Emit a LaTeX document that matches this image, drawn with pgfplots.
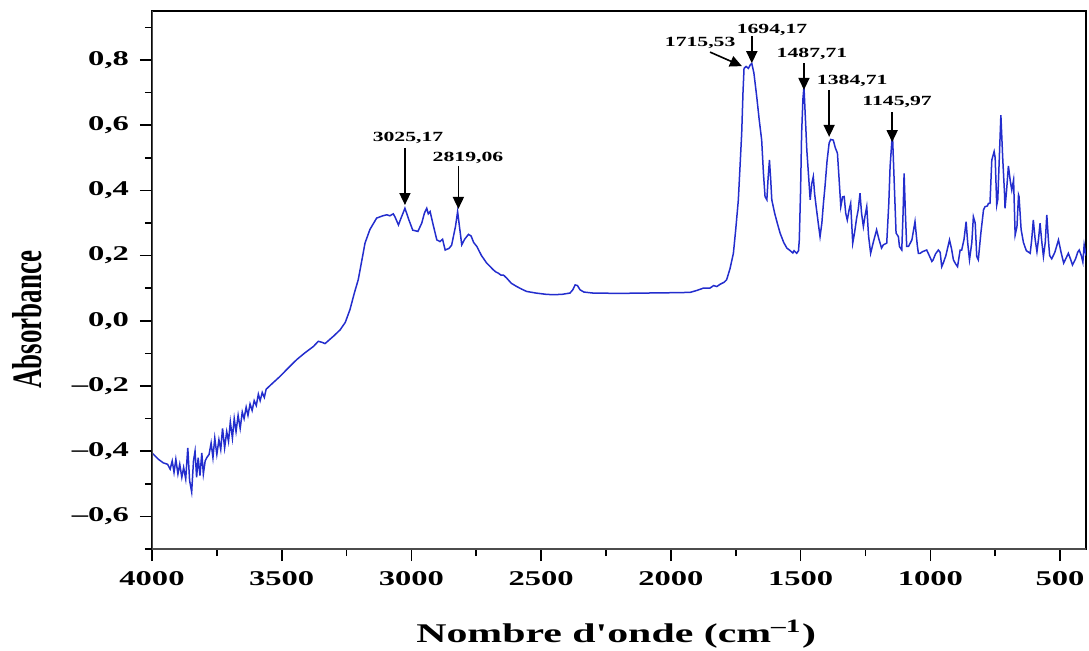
\documentclass[border=0pt]{standalone}
\usepackage{fontspec}
\setmainfont{Liberation Serif}
\usepackage{graphicx}
\usepackage{pgfplots}
\pgfplotsset{compat=1.18}
\usetikzlibrary{arrows.meta}

\definecolor{specblue}{RGB}{35,45,205}
\newcommand\sx[1]{\scalebox{1.55}[1]{#1}}

\pgfplotstableread{
wn    abs
4000 -0.405
3975 -0.425
3956 -0.436
3940 -0.44
3930 -0.455
3922 -0.43
3915 -0.465
3908 -0.425
3900 -0.47
3893 -0.44
3885 -0.48
3878 -0.45
3870 -0.485
3862 -0.39
3855 -0.49
3847 -0.525
3840 -0.43
3834 -0.40
3828 -0.48
3822 -0.42
3815 -0.475
3808 -0.405
3802 -0.47
3795 -0.43
3789 -0.42
3780 -0.41
3772 -0.375
3765 -0.42
3758 -0.36
3750 -0.41
3742 -0.365
3735 -0.395
3728 -0.33
3720 -0.39
3712 -0.34
3705 -0.37
3698 -0.31
3690 -0.36
3683 -0.30
3676 -0.34
3668 -0.29
3660 -0.33
3652 -0.28
3645 -0.30
3637 -0.265
3630 -0.29
3622 -0.255
3614 -0.275
3606 -0.245
3598 -0.26
3590 -0.225
3583 -0.245
3575 -0.22
3567 -0.235
3560 -0.21
3540 -0.195
3507 -0.171
3475 -0.145
3442 -0.119
3410 -0.098
3378 -0.079
3359 -0.063
3345 -0.066
3333 -0.070
3300 -0.047
3275 -0.028
3255 -0.005
3237 0.034
3220 0.085
3205 0.126
3190 0.19
3179 0.238
3160 0.28
3134 0.315
3110 0.322
3095 0.325
3083 0.322
3070 0.328
3063 0.318
3050 0.294
3040 0.315
3025 0.345
3010 0.31
2995 0.278
2975 0.274
2960 0.30
2950 0.33
2941 0.345
2935 0.328
2928 0.335
2915 0.29
2902 0.248
2890 0.243
2880 0.25
2870 0.217
2855 0.222
2845 0.232
2830 0.29
2822 0.335
2815 0.29
2806 0.233
2795 0.25
2780 0.265
2770 0.26
2760 0.24
2748 0.228
2730 0.20
2710 0.177
2695 0.165
2684 0.156
2675 0.15
2665 0.146
2655 0.14
2645 0.14
2633 0.131
2615 0.115
2594 0.105
2575 0.097
2556 0.090
2520 0.085
2480 0.081
2453 0.080
2420 0.081
2389 0.085
2378 0.095
2369 0.110
2360 0.108
2350 0.095
2335 0.088
2300 0.085
2200 0.084
2100 0.085
2000 0.086
1926 0.087
1900 0.093
1875 0.100
1850 0.100
1835 0.108
1823 0.105
1810 0.112
1795 0.118
1785 0.126
1772 0.160
1759 0.207
1750 0.28
1740 0.37
1733 0.48
1727 0.575
1722 0.70
1718 0.774
1710 0.780
1701 0.774
1694 0.785
1688 0.789
1680 0.76
1669 0.687
1660 0.62
1650 0.554
1643 0.45
1637 0.381
1630 0.371
1625 0.44
1620 0.493
1615 0.43
1611 0.371
1600 0.33
1590 0.30
1579 0.269
1565 0.24
1553 0.223
1540 0.215
1530 0.208
1525 0.215
1515 0.207
1508 0.215
1505 0.248
1500 0.40
1496 0.575
1491 0.68
1487 0.718
1482 0.63
1476 0.524
1468 0.43
1463 0.371
1457 0.42
1451 0.442
1446 0.39
1440 0.350
1432 0.30
1425 0.258
1418 0.30
1412 0.36
1406 0.411
1398 0.49
1390 0.545
1384 0.556
1374 0.554
1366 0.53
1358 0.514
1352 0.44
1345 0.350
1338 0.38
1332 0.381
1326 0.33
1320 0.309
1313 0.34
1307 0.360
1299 0.238
1292 0.27
1284 0.315
1278 0.34
1271 0.391
1265 0.33
1258 0.289
1252 0.32
1245 0.350
1238 0.26
1230 0.207
1220 0.24
1207 0.279
1198 0.25
1188 0.223
1181 0.233
1168 0.238
1160 0.36
1155 0.473
1148 0.554
1145 0.554
1138 0.40
1132 0.269
1123 0.258
1119 0.228
1110 0.217
1105 0.33
1101 0.452
1096 0.33
1091 0.228
1084 0.228
1071 0.248
1059 0.304
1050 0.23
1046 0.207
1039 0.207
1030 0.212
1014 0.217
1004 0.20
994 0.182
989 0.187
980 0.205
969 0.217
962 0.21
956 0.166
950 0.177
940 0.20
926 0.248
918 0.22
911 0.187
903 0.175
895 0.166
885 0.217
879 0.217
870 0.25
862 0.304
856 0.24
849 0.187
840 0.24
834 0.319
827 0.30
821 0.197
815 0.187
805 0.27
795 0.340
789 0.350
780 0.352
776 0.360
770 0.360
763 0.493
754 0.519
750 0.50
744 0.355
740 0.371
734 0.50
728 0.631
721 0.50
714 0.391
712 0.345
706 0.40
699 0.475
692 0.43
686 0.401
679 0.432
673 0.263
666 0.289
660 0.386
658 0.381
650 0.28
641 0.240
630 0.215
615 0.207
609 0.25
603 0.309
596 0.25
589 0.212
583 0.25
577 0.299
570 0.24
564 0.197
557 0.24
551 0.325
545 0.25
540 0.20
532 0.190
520 0.21
506 0.248
496 0.21
486 0.177
478 0.19
468 0.207
460 0.19
452 0.171
440 0.19
432 0.21
426 0.217
418 0.20
412 0.18
407 0.233
400 0.20
}\spectrum

\begin{document}
\begin{tikzpicture}
\useasboundingbox (-76pt,-50.5pt) rectangle (468.5pt,274.5pt);
\begin{axis}[
    at={(0,0)}, anchor=south west,
    scale only axis,
    width=467pt, height=269pt,
    x dir=reverse,
    xmin=400, xmax=4000,
    ymin=-0.7, ymax=0.95,
    xtick={500,1000,...,4000},
    xticklabels={{\sx{500}},{\sx{1000}},{\sx{1500}},{\sx{2000}},{\sx{2500}},{\sx{3000}},{\sx{3500}},{\sx{4000}}},
    minor xtick={750,1250,...,3750},
    ytick={-0.6,-0.4,...,0.81},
    yticklabels={{\sx{--0,6}},{\sx{--0,4}},{\sx{--0,2}},{\sx{0,0}},{\sx{0,2}},{\sx{0,4}},{\sx{0,6}},{\sx{0,8}}},
    minor ytick={-0.7,-0.5,...,0.95},
    tick align=outside,
    xtick pos=bottom, ytick pos=left,
    major tick length=6pt, minor tick length=3.5pt,
    tick style={black, line width=0.8pt},
    ticklabel style={font=\fontsize{10.5}{12}\selectfont\bfseries},
    yticklabel style={xshift=-2pt},
    xticklabel style={yshift=-1.5pt},
    axis line style={black, line width=0.6pt},
    xlabel={\sx{Nombre d\textquotesingle onde (cm\textsuperscript{--1})}},
    ylabel={\scalebox{1}[1.55]{Absorbance}},
    label style={font=\fontsize{13.5}{15}\selectfont\bfseries},
    xlabel style={at={(axis description cs:0.497,-0.158)}, anchor=center},
    ylabel style={at={(axis description cs:-0.1338,0.426)}, anchor=center},
    clip=true,
]
\addplot[specblue, line width=0.75pt] table[x=wn, y=abs] {\spectrum};

\draw[gray!60!black, line width=1.3pt] (rel axis cs:0,1) -- (rel axis cs:0,0) -- (rel axis cs:1,0);

% peak annotations
\begin{scope}[every node/.style={font=\fontsize{7}{8}\selectfont\bfseries, inner sep=0pt},
              arr/.style={-{Triangle[length=6pt,width=5.5pt]}, line width=0.8pt}]
\node at (axis cs:3013,0.560) {\sx{3025,17}};
\draw[arr] (axis cs:3025,0.530) -- (axis cs:3025,0.355);
\node at (axis cs:2782,0.499) {\sx{2819,06}};
\draw[arr] (axis cs:2819,0.475) -- (axis cs:2819,0.343);
\node at (axis cs:1887,0.851) {\sx{1715,53}};
\draw[arr] (axis cs:1849,0.824) -- (axis cs:1726,0.781);
\node at (axis cs:1610,0.891) {\sx{1694,17}};
\draw[arr] (axis cs:1688,0.873) -- (axis cs:1688,0.790);
\node at (axis cs:1456,0.818) {\sx{1487,71}};
\draw[arr] (axis cs:1487,0.790) -- (axis cs:1487,0.708);
\node at (axis cs:1301,0.735) {\sx{1384,71}};
\draw[arr] (axis cs:1390,0.708) -- (axis cs:1390,0.564);
\node at (axis cs:1128,0.671) {\sx{1145,97}};
\draw[arr] (axis cs:1147,0.640) -- (axis cs:1147,0.548);
\end{scope}
\end{axis}
\end{tikzpicture}
\end{document}
